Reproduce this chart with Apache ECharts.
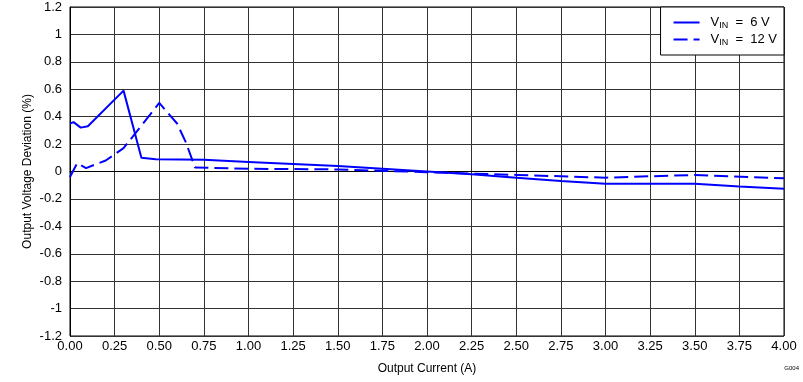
<!DOCTYPE html>
<html>
<head>
<meta charset="utf-8">
<script src="https://cdn.jsdelivr.net/npm/echarts@6/dist/echarts.min.js"></script>
<style>html,body{margin:0;padding:0;background:#fff}#c{width:803px;height:382px}</style>
</head>
<body>
<div id="c"></div>
<script>
// Data
const x6 = [0, 0.02, 0.06, 0.1, 0.3, 0.4, 0.48, 0.75, 1.0, 1.25, 1.5, 1.75, 2.0, 2.25, 2.5, 2.75, 3.0, 3.25, 3.5, 3.75, 4.0];
const y6 = [0.35, 0.36, 0.32, 0.33, 0.59, 0.10, 0.09, 0.085, 0.07, 0.055, 0.04, 0.02, 0.0, -0.02, -0.045, -0.07, -0.09, -0.09, -0.09, -0.11, -0.125];
const x12 = [0, 0.04, 0.09, 0.2, 0.3, 0.5, 0.6, 0.65, 0.7, 1.0, 1.5, 2.0, 2.5, 3.0, 3.5, 4.0];
const y12 = [-0.04, 0.06, 0.025, 0.08, 0.17, 0.5, 0.35, 0.21, 0.03, 0.02, 0.015, -0.005, -0.025, -0.045, -0.025, -0.05];
const seriesNames = ['V6', 'V12'];
const legendLabels = {V6: '6 V', V12: '12 V'};

const font = '"Liberation Sans", Arial, sans-serif';
const chart = echarts.init(document.getElementById('c'), null, {renderer: 'canvas'});
chart.setOption({
  animation: false,
  grid: {left: 70, top: 7, right: 19, bottom: 46, show: true, borderColor: '#000', borderWidth: 1, backgroundColor: 'transparent'},
  legend: {
    right: 19, top: 7, orient: 'vertical',
    padding: [9, 7, 8, 12], itemGap: 3,
    itemWidth: 26, itemHeight: 14,
    borderColor: '#000', borderWidth: 1, backgroundColor: '#fff', borderRadius: 0,
    itemStyle: {opacity: 0},
    data: seriesNames,
    formatter: function (n) { return '{a|V}{b|IN}{a|  =  ' + legendLabels[n] + '}'; },
    textStyle: {
      fontFamily: font, color: '#000', padding: [0, 0, 0, 6],
      rich: {
        a: {fontSize: 13, fontFamily: font, color: '#000'},
        b: {fontSize: 9, fontFamily: font, color: '#000', padding: [6, 0, 0, 0]}
      }
    }
  },
  xAxis: {
    type: 'value', min: 0, max: 4, interval: 0.25,
    name: 'Output Current (A)', nameLocation: 'middle', nameGap: 27,
    nameTextStyle: {fontFamily: font, fontSize: 12, color: '#000'},
    axisLine: {show: true, lineStyle: {color: '#000'}},
    axisTick: {show: false},
    axisLabel: {fontFamily: font, fontSize: 13, color: '#000', margin: 4, formatter: v => v.toFixed(2)},
    splitLine: {show: true, lineStyle: {color: '#333', width: 1}}
  },
  yAxis: {
    type: 'value', min: -1.2, max: 1.2, interval: 0.2,
    name: 'Output Voltage Deviation (%)', nameLocation: 'middle', nameGap: 36, nameMoveOverlap: false,
    nameTextStyle: {fontFamily: font, fontSize: 12, color: '#000'},
    axisLine: {show: true, lineStyle: {color: '#000'}},
    axisTick: {show: false},
    axisLabel: {fontFamily: font, fontSize: 13, color: '#000', margin: 8, formatter: v => String(parseFloat(v.toFixed(1)))},
    splitLine: {show: true, lineStyle: {color: '#333', width: 1}}
  },
  series: [
    {name: 'V6', type: 'line', symbol: 'none', data: x6.map((x, i) => [x, y6[i]]),
     lineStyle: {color: '#0000ff', width: 2}, itemStyle: {color: '#0000ff'}},
    {name: 'V12', type: 'line', symbol: 'none', data: x12.map((x, i) => [x, y12[i]]),
     lineStyle: {color: '#0000ff', width: 2, type: [14, 6]}, itemStyle: {color: '#0000ff'}}
  ],
  graphic: [{type: 'text', right: 4, top: 365, style: {text: 'G004', fontSize: 6, fontFamily: font, fill: '#000'}}]
});
</script>
</body>
</html>
